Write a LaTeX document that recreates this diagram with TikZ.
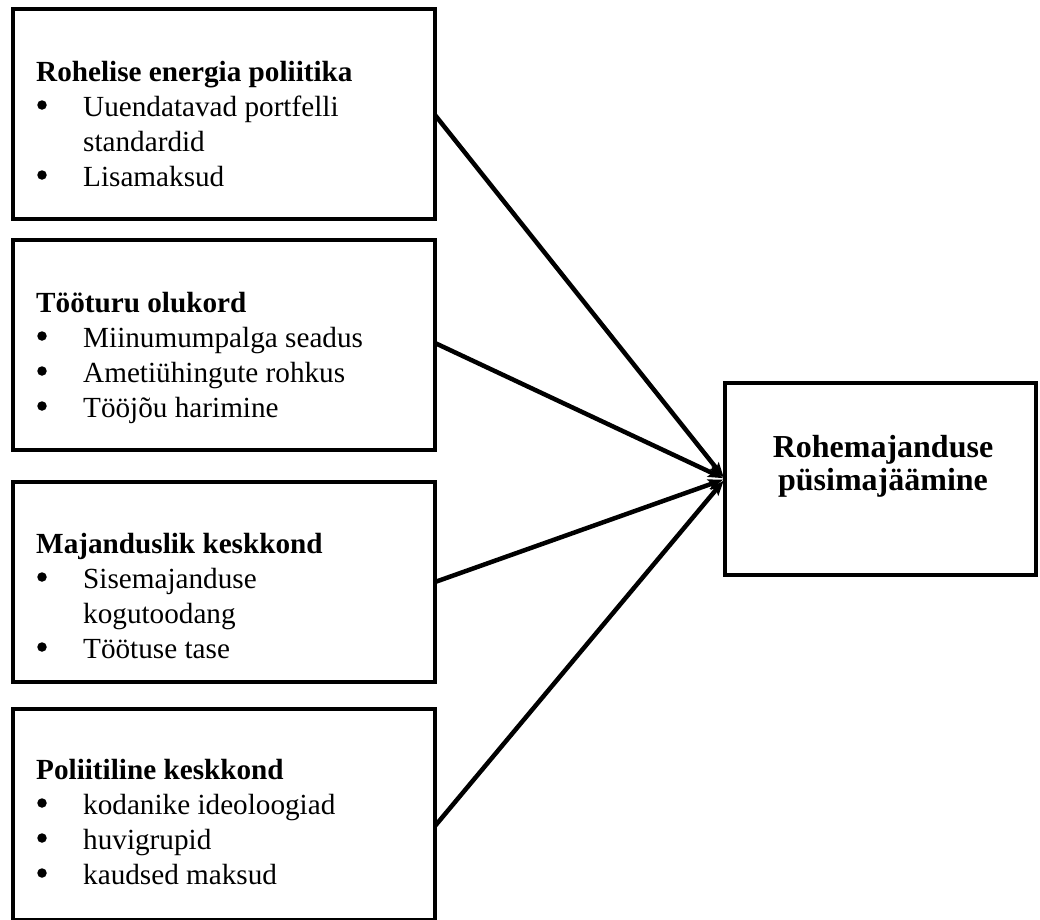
\documentclass[tikz,border=0pt]{standalone}
\usepackage{fontspec}
\setmainfont{Liberation Serif}
\usetikzlibrary{arrows.meta}
\begin{document}
\begin{tikzpicture}[x=1pt,y=-1pt,
  box/.style={draw=black,line width=4.5pt,inner sep=0pt,outer sep=0pt,fill=white},
  txt/.style={anchor=base west,inner sep=0pt,font=\fontsize{29.2pt}{35pt}\selectfont},
  ttl/.style={txt,font=\fontsize{29.2pt}{35pt}\selectfont\bfseries},
  bul/.style={circle,fill=black,inner sep=0pt,minimum size=9.5pt},
  rtxt/.style={anchor=base,inner sep=0pt,font=\fontsize{32pt}{34pt}\selectfont\bfseries},
  conn/.style={line width=4.5pt,-{Stealth[length=15pt,width=11pt,inset=3pt]},shorten >=2pt}
]
\useasboundingbox (0,0) rectangle (1040,919);
% boxes
\node[box,minimum width=422pt,minimum height=210pt] (b1) at (224,114) {};
\node[box,minimum width=422pt,minimum height=210pt] (b2) at (224,345) {};
\node[box,minimum width=422pt,minimum height=200pt] (b3) at (224,582) {};
\node[box,minimum width=422pt,minimum height=211pt] (b4) at (224,814.5) {};
\node[box,minimum width=311pt,minimum height=192pt] (r) at (880.5,479) {};
% box 1
\node[ttl] (t1) at (36,81) {Rohelise energia poliitika};
\node[bul] (p1a) at (42,105) {};
\node[txt] (i1a) at (83,116) {Uuendatavad portfelli};
\node[txt] (i1b) at (83,151) {standardid};
\node[bul] (p1c) at (42,175) {};
\node[txt] (i1c) at (83,186) {Lisamaksud};
% box 2
\node[ttl] (t2) at (36,312) {Tööturu olukord};
\node[bul] (p2a) at (42,336) {};
\node[txt] (i2a) at (83,347) {Miinumumpalga seadus};
\node[bul] (p2b) at (42,371) {};
\node[txt] (i2b) at (83,382) {Ametiühingute rohkus};
\node[bul] (p2c) at (42,406) {};
\node[txt] (i2c) at (83,417) {Tööjõu harimine};
% box 3
\node[ttl] (t3) at (36,553) {Majanduslik keskkond};
\node[bul] (p3a) at (42,577) {};
\node[txt] (i3a) at (83,588) {Sisemajanduse};
\node[txt] (i3b) at (83,623) {kogutoodang};
\node[bul] (p3c) at (42,647) {};
\node[txt] (i3c) at (83,658) {Töötuse tase};
% box 4
\node[ttl] (t4) at (36,779) {Poliitiline keskkond};
\node[bul] (p4a) at (42,803) {};
\node[txt] (i4a) at (83,814) {kodanike ideoloogiad};
\node[bul] (p4b) at (42,838) {};
\node[txt] (i4b) at (83,849) {huvigrupid};
\node[bul] (p4c) at (42,873) {};
\node[txt] (i4c) at (83,884) {kaudsed maksud};
% right box text
\node[rtxt] (rt1) at (883,457) {Rohemajanduse};
\node[rtxt] (rt2) at (883,490) {püsimajäämine};
% connectors
\coordinate (tip) at (r.west);
\draw[conn] ([yshift=-1pt]b1.east) -- (tip);
\draw[conn] ([yshift=2pt]b2.east) -- (tip);
\draw[conn] (b3.east) -- (tip);
\draw[conn] ([yshift=-11.5pt]b4.east) -- (tip);
\end{tikzpicture}
\end{document}
